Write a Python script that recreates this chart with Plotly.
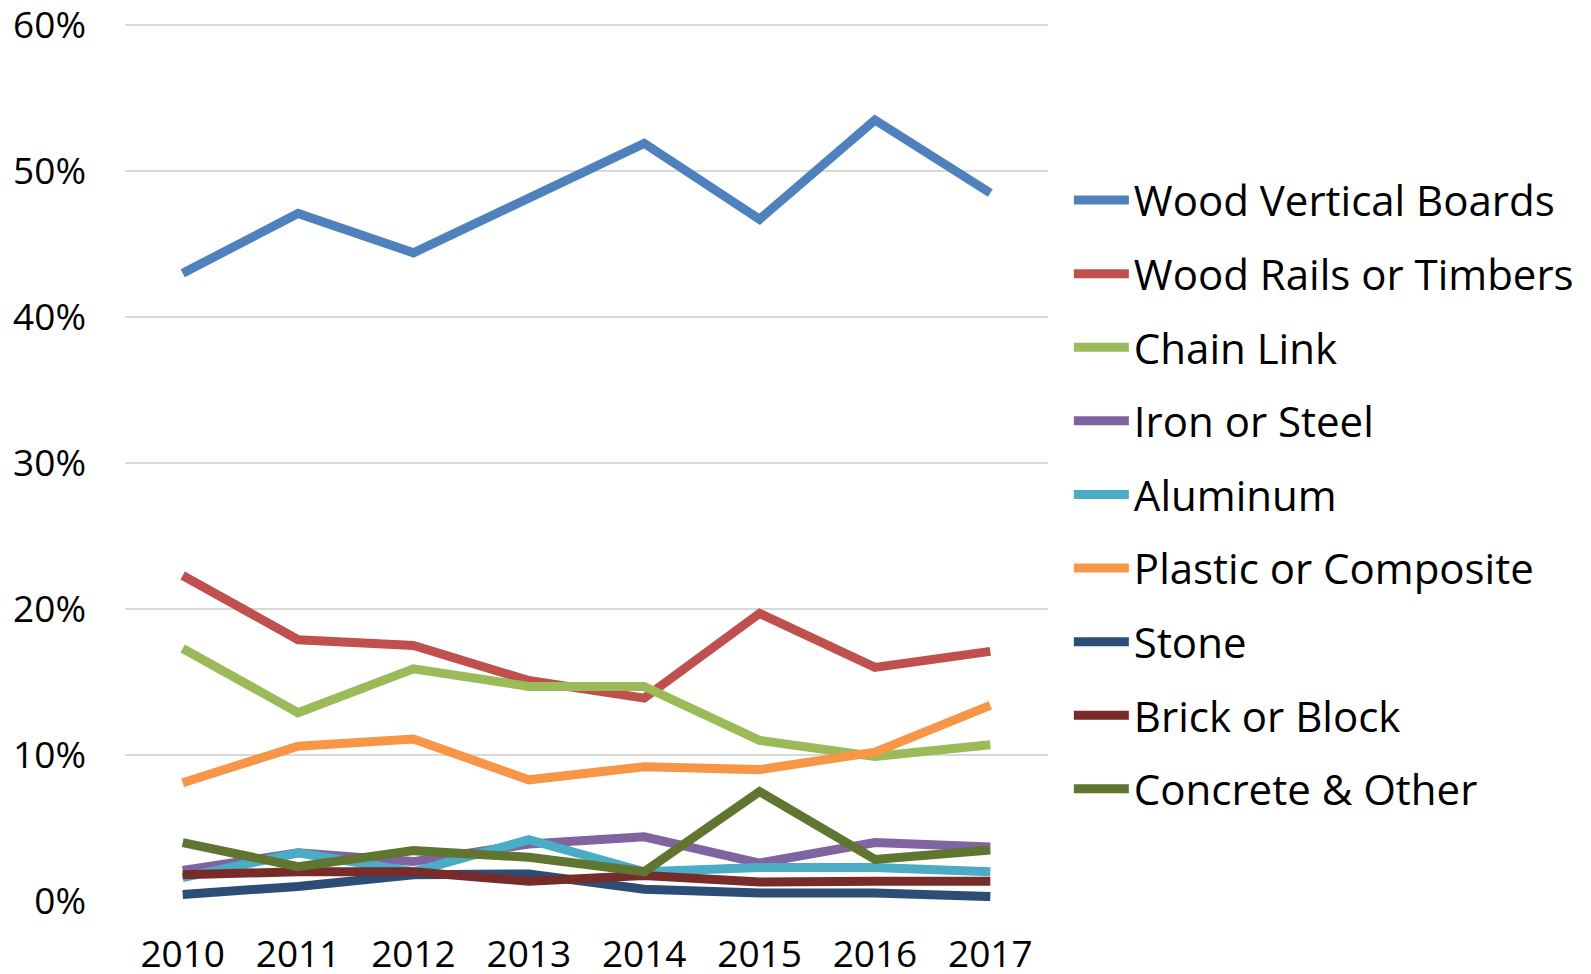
import plotly.graph_objects as go

years = ["2010", "2011", "2012", "2013", "2014", "2015", "2016", "2017"]

wood_vertical = [43.0, 47.1, 44.4, 48.2, 51.9, 46.7, 53.5, 48.5]
wood_rails = [22.3, 17.9, 17.5, 15.1, 13.9, 19.7, 16.0, 17.1]
chain_link = [17.3, 12.9, 15.9, 14.7, 14.7, 11.0, 9.9, 10.7]
iron_steel = [2.1, 3.3, 2.7, 3.9, 4.4, 2.6, 4.0, 3.7]
aluminum = [1.6, 3.3, 2.0, 4.2, 2.0, 2.3, 2.3, 2.0]
plastic = [8.1, 10.6, 11.1, 8.3, 9.2, 9.0, 10.2, 13.4]
stone = [0.45, 1.0, 1.8, 1.85, 0.8, 0.55, 0.55, 0.3]
brick = [1.8, 2.0, 2.0, 1.35, 1.75, 1.3, 1.35, 1.35]
concrete = [4.0, 2.35, 3.45, 3.0, 2.0, 7.5, 2.85, 3.5]

series_names = ["Wood Vertical Boards", "Wood Rails or Timbers", "Chain Link",
                "Iron or Steel", "Aluminum", "Plastic or Composite", "Stone",
                "Brick or Block", "Concrete & Other"]
series_values = [wood_vertical, wood_rails, chain_link, iron_steel, aluminum,
                 plastic, stone, brick, concrete]
colors = ["#4F81BD", "#C0504D", "#9BBB59", "#8064A2", "#4BACC6",
          "#F79646", "#2C4D75", "#772C2A", "#5F7530"]

fig = go.Figure()
for name, vals, col in zip(series_names, series_values, colors):
    fig.add_trace(go.Scatter(
        x=years, y=[v / 100 for v in vals], name=name, mode="lines",
        legendgroup=name,
        line=dict(color=col, width=9),
    ))

fig.update_layout(
    width=1583, height=966,
    margin=dict(l=117, r=543, t=12, b=73),
    paper_bgcolor="white", plot_bgcolor="white",
    font=dict(family="Open Sans", color="#000000"),
    showlegend=True,
    legend=dict(
        x=1.0226, y=0.834, xanchor="left", yanchor="top",
        font=dict(size=42, family="Open Sans", color="#000000"),
        traceorder="grouped", tracegroupgap=16, itemwidth=55,
        bgcolor="rgba(0,0,0,0)",
    ),
    xaxis=dict(
        type="category", range=[-0.5, 7.5], automargin=False,
        showgrid=False, zeroline=False, showline=False,
        ticks="", ticklabelstandoff=28, ticklabeloverflow="allow",
        tickfont=dict(size=37, family="Open Sans"),
    ),
    yaxis=dict(
        range=[0, 0.6035], tickvals=[0, 0.1, 0.2, 0.3, 0.4, 0.5, 0.6],
        tickformat=".0%", automargin=False,
        showgrid=True, gridcolor="#D9D9D9", gridwidth=2,
        zeroline=False, showline=False, ticks="", ticklabelstandoff=38,
        ticklabeloverflow="allow",
        tickfont=dict(size=37, family="Open Sans"),
    ),
)

fig.write_html("out.html")
